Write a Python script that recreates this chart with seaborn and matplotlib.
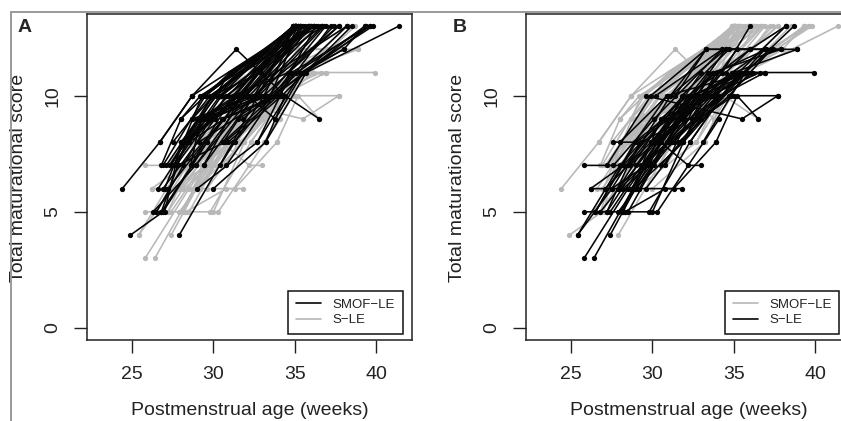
"""Two-panel spaghetti plot of maturational score by postmenstrual age."""

import matplotlib
matplotlib.use("Agg")
import matplotlib.pyplot as plt
import pandas as pd
import seaborn as sns
from matplotlib.lines import Line2D

# SMOF-LE infants: one list of ages / scores per infant
smof_ages = [
    [24.4, 26.7, 28.7], [24.9, 26.9, 29.6], [26.3, 28.9, 32.4], [26.8, 29.6, 34.9],
    [27.0, 29.3, 35.0], [27.9, 31.2, 35.0], [28.7, 31.4, 34.4, 36.5], [26.8, 28.0, 31.0],
    [26.9, 29.5, 35.1], [27.1, 30.0, 35.1], [27.3, 30.4, 34.9], [27.7, 30.8, 36.2],
    [28.6, 31.2, 35.3], [28.9, 32.0, 35.9], [29.4, 32.5, 36.7], [30.4, 33.1, 37.7],
    [30.8, 33.7, 38.2], [26.7, 28.7, 35.3], [27.5, 29.8, 35.9], [28.0, 30.2, 35.0],
    [28.3, 31.0, 35.4], [30.6, 33.7, 39.3], [31.3, 34.8, 39.6], [32.7, 35.4, 39.8],
    [33.2, 35.7, 41.4], [28.0, 29.2, 36.2], [28.7, 30.0, 34.9], [29.2, 31.6, 35.1],
    [33.8, 35.5, 38.0], [29.3, 35.2], [29.5, 35.0], [29.8, 36.0],
    [30.0, 35.3], [30.4, 36.2], [30.8, 36.7], [31.2, 35.0],
    [31.6, 38.2], [32.0, 36.1], [32.5, 37.7], [33.1, 35.2],
    [33.7, 39.6], [29.0, 32.7, 34.8], [30.0, 33.2, 34.4], [26.8, 28.3, 31.6],
    [27.0, 28.0, 32.0], [28.6, 29.2, 33.1], [30.6, 32.5, 35.1], [29.2, 32.1, 33.8],
    [28.7, 32.7, 35.9], [31.0, 36.6], [35.4, 38.0, 39.3], [29.4, 31.7, 35.1],
    [27.3, 29.1, 31.4], [28.3, 30.9, 35.0], [31.5, 33.9, 36.3],
    [28.4, 31.8, 35.6], [29.0, 32.2, 36.4], [27.4, 29.9, 34.9], [26.9, 30.1, 35.0],
    [27.6, 30.5, 36.0], [28.2, 31.5, 35.2], [29.6, 33.4, 36.9], [30.2, 34.0, 37.2],
    [29.9, 32.9, 35.5], [26.5, 29.8, 33.3], [27.2, 30.6, 34.1], [28.1, 31.9, 35.8],
    [30.9, 34.2, 38.5], [31.8, 35.1, 39.4], [28.5, 32.8, 36.8], [29.1, 33.5, 35.3],
    [30.5, 33.9], [27.8, 30.7, 34.0], [26.6, 29.4, 33.0], [31.2, 34.6, 37.4],
]
smof_scores = [
    [6, 8, 10], [4, 5, 8], [5, 7, 10], [5, 8, 13],
    [6, 10, 13], [4, 8, 13], [10, 12, 10, 9], [7, 9, 11],
    [7, 10, 13], [7, 10, 13], [7, 10, 13], [7, 10, 13],
    [7, 10, 13], [7, 10, 13], [7, 10, 13], [7, 10, 13],
    [7, 10, 13], [8, 10, 13], [8, 10, 13], [8, 10, 13],
    [8, 11, 13], [8, 10, 13], [8, 11, 13], [8, 11, 13],
    [8, 11, 13], [9, 10, 13], [9, 10, 13], [9, 10, 13],
    [9, 11, 12], [10, 13], [10, 13], [10, 13],
    [10, 13], [10, 13], [10, 13], [10, 13],
    [10, 13], [10, 13], [10, 13], [10, 13],
    [10, 13], [6, 8, 11], [6, 8, 10], [5, 8, 10],
    [5, 8, 10], [7, 9, 10], [8, 10, 13], [9, 10, 9],
    [9, 10, 13], [11, 13], [11, 12, 13], [7, 10, 13],
    [7, 9, 10], [8, 10, 13], [9, 10, 13],
    [8, 10, 13], [9, 10, 13], [7, 10, 13], [6, 9, 13],
    [7, 10, 13], [8, 10, 13], [9, 10, 13], [10, 10, 13],
    [10, 11, 13], [5, 9, 10], [6, 9, 10], [7, 10, 13],
    [8, 10, 13], [9, 11, 13], [8, 10, 13], [8, 10, 13],
    [9, 10], [7, 8, 10], [6, 9, 10], [10, 11, 13],
]

# S-LE infants
sle_ages = [
    [25.8, 28.5, 32.5], [26.4, 29.6, 33.7], [25.4, 28.0, 31.9], [27.4, 30.5, 34.3],
    [28.3, 30.8, 31.8], [25.8, 28.1, 31.0], [26.5, 29.0, 33.1], [27.2, 30.0, 33.4],
    [27.4, 30.3, 34.2], [28.5, 30.9, 35.0], [28.3, 30.3, 34.1], [29.8, 32.3, 35.3],
    [26.2, 29.2, 32.5], [27.1, 29.9, 33.7], [28.0, 31.0, 34.8], [28.2, 31.3, 35.0],
    [28.9, 31.9, 35.7], [29.2, 31.3, 33.9], [25.8, 29.0, 33.0], [27.2, 29.9, 33.3],
    [27.6, 30.1, 34.3], [28.5, 31.1, 34.5], [29.4, 32.2, 36.0], [30.1, 32.4, 35.5],
    [30.5, 33.0, 36.9], [30.5, 32.2, 33.0], [27.6, 28.9, 32.5], [28.0, 30.9, 35.9],
    [29.9, 32.9, 36.9], [30.9, 33.7, 37.9], [31.3, 34.2, 36.9], [31.9, 35.0, 38.9],
    [32.3, 35.3, 38.2], [33.1, 35.7, 38.7], [33.9, 35.2, 36.5], [29.6, 35.5, 37.7],
    [31.9, 34.3, 36.0], [30.2, 34.3, 38.9], [31.1, 33.3, 36.0], [31.4, 33.3, 37.0],
    [32.5, 34.5, 37.9], [33.7, 35.9, 39.9], [32.9, 35.0, 37.7], [33.4, 35.3, 36.9],
    [26.2, 28.2, 30.8], [28.8, 29.9, 32.7], [27.2, 28.5, 31.9], [26.5, 28.9, 30.9],
    [29.8, 31.8, 34.7], [30.1, 32.5, 35.8], [28.2, 30.5, 33.9], [25.4, 27.5, 29.6],
    [30.0, 31.9, 33.9], [27.5, 29.3, 32.0], [32.4, 33.9, 37.0], [34.5, 36.0, 38.2],
    [28.7, 31.5, 34.9], [29.3, 32.6, 36.2], [27.9, 31.2, 34.0], [29.0, 32.0, 35.2],
    [30.3, 33.5, 36.6], [26.8, 30.2, 33.2], [28.6, 31.7, 34.9], [31.0, 33.8, 37.4],
    [29.6, 32.8, 35.6], [27.9, 30.6, 33.6], [30.8, 32.9, 36.1], [31.6, 34.7, 37.3],
]
sle_scores = [
    [3, 6, 10], [3, 7, 11], [4, 7, 10], [4, 8, 11],
    [5, 6, 6], [5, 5, 9], [5, 8, 10], [5, 8, 11],
    [5, 8, 10], [5, 8, 11], [5, 5, 9], [5, 8, 11],
    [6, 6, 10], [6, 8, 11], [6, 8, 10], [6, 8, 11],
    [6, 8, 11], [6, 6, 8], [7, 7, 11], [7, 10, 12],
    [7, 9, 12], [7, 10, 12], [7, 10, 12], [7, 10, 11],
    [7, 9, 12], [8, 7, 7], [8, 8, 10], [8, 10, 11],
    [8, 10, 12], [8, 11, 12], [8, 10, 11], [8, 11, 12],
    [8, 11, 13], [8, 11, 13], [8, 10, 9], [10, 9, 10],
    [9, 11, 13], [10, 12, 12], [10, 12, 12], [10, 12, 12],
    [10, 12, 12], [10, 11, 11], [9, 10, 10], [10, 11, 11],
    [6, 7, 9], [6, 7, 10], [5, 7, 10], [5, 8, 10],
    [7, 10, 12], [8, 10, 11], [5, 9, 11], [4, 6, 7],
    [5, 8, 11], [6, 8, 9], [9, 11, 12], [11, 12, 13],
    [6, 9, 11], [7, 9, 11], [5, 8, 10], [6, 9, 12],
    [8, 10, 11], [5, 8, 10], [7, 9, 11], [9, 10, 12],
    [6, 9, 11], [6, 9, 10], [7, 10, 11], [8, 10, 12],
]

GROUP_LABELS = ["SMOF\u2212LE", "S\u2212LE"]
X_TICKS = [25, 30, 35, 40]
Y_TICKS = [0, 5, 10]

BLACK = "#050505"
GREY = "#b8b8b8"


def to_long(ages, scores):
    rows = []
    for i, (a, s) in enumerate(zip(ages, scores)):
        for age, score in zip(a, s):
            rows.append({"id": i, "age": age, "score": score})
    return pd.DataFrame(rows)


def draw_group(ax, df, color):
    sns.lineplot(
        data=df, x="age", y="score", units="id", estimator=None, sort=False,
        color=color, linewidth=1.15, marker="o", markersize=3.8,
        markeredgewidth=0, ax=ax, legend=False,
    )


def style_axes(ax, legend_colors, legend_anchor, legend_loc):
    ax.set_xlim(22.23, 42.2)
    ax.set_ylim(-0.52, 13.52)
    ax.set_xticks(X_TICKS)
    ax.set_yticks(Y_TICKS)
    ax.tick_params(axis="both", direction="out", length=9.5, width=1.0,
                   labelsize=14, pad=9, color="#222222", labelcolor="#222222")
    ax.tick_params(axis="y", labelrotation=90)
    for lab in ax.get_yticklabels():
        lab.set_va("center")
    for sp in ax.spines.values():
        sp.set_linewidth(1.1)
        sp.set_color("#222222")
    ax.set_xlabel("Postmenstrual age (weeks)", fontsize=14, color="#222222")
    ax.set_ylabel("Total maturational score", fontsize=14, color="#222222")
    ax.xaxis.set_label_coords(0.5, -0.215)
    ax.xaxis.label.set_va("center")
    ax.yaxis.set_label_coords(-0.211, 0.498)
    ax.yaxis.label.set_va("center")

    handles = [Line2D([], [], color=c, linewidth=1.2) for c in legend_colors]
    leg = ax.legend(
        handles, GROUP_LABELS, loc=legend_loc, bbox_to_anchor=legend_anchor,
        prop={"size": 9.5}, handlelength=1.9, handletextpad=0.85,
        borderpad=0.6, labelspacing=0.22, borderaxespad=0,
        fancybox=False, framealpha=1, edgecolor="#111111",
    )
    leg.get_frame().set_linewidth(1.1)
    for t in leg.get_texts():
        t.set_color("#222222")


sns.set_theme(style="ticks")
plt.rcParams["font.family"] = ["Liberation Sans", "DejaVu Sans"]

smof_df = to_long(smof_ages, smof_scores)
sle_df = to_long(sle_ages, sle_scores)

fig = plt.figure(figsize=(8.41, 4.21), dpi=100)
ax_a = fig.add_axes([87 / 841, 81 / 421, 325 / 841, 326 / 421])
ax_b = fig.add_axes([526 / 841, 81 / 421, 325 / 841, 326 / 421])

# Panel A: SMOF-LE highlighted
draw_group(ax_a, sle_df, GREY)
draw_group(ax_a, smof_df, BLACK)
style_axes(ax_a, [BLACK, GREY], (0.972, 0.018), "lower right")

# Panel B: S-LE highlighted
draw_group(ax_b, smof_df, GREY)
draw_group(ax_b, sle_df, BLACK)
style_axes(ax_b, [GREY, BLACK], (0.612, 0.018), "lower left")

fig.text(18 / 841, 1 - 32 / 421, "A", fontsize=14, fontweight="bold", va="baseline")
fig.text(453 / 841, 1 - 32 / 421, "B", fontsize=14, fontweight="bold", va="baseline")

# thin grey frame along the top and left of the figure
fig.add_artist(Line2D([11 / 841, 1], [1 - 12 / 421] * 2, color="#9a9a9a", linewidth=1.4))
fig.add_artist(Line2D([11 / 841] * 2, [0, 1 - 12 / 421], color="#9a9a9a", linewidth=1.4))

fig.savefig("out.png", dpi=100)
